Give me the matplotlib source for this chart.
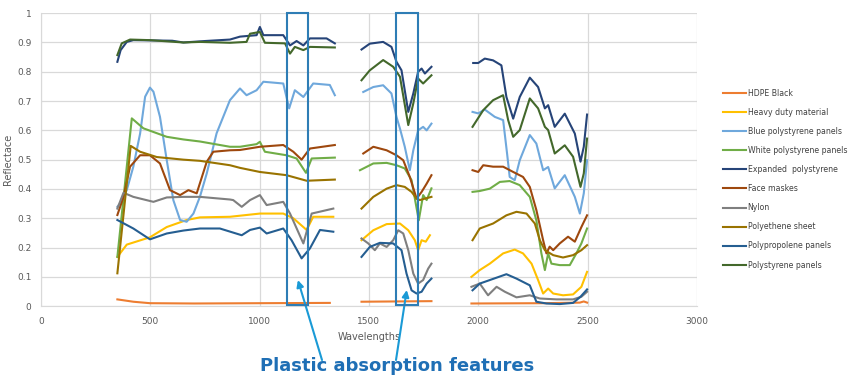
import numpy as np
import matplotlib
matplotlib.use('Agg')
import matplotlib.pyplot as plt
from matplotlib.patches import Rectangle

nan = np.nan

# wavelengths (nm) / reflectance, nan separates the 3 detector segments
hdpe_w = [349, 422, 498, 700, 1000, 1321, nan, 1466, 1786, nan, 1969, 2300, 2465, 2483, 2498]
hdpe_r = [0.023, 0.015, 0.010, 0.009, 0.010, 0.011, nan, 0.015, 0.017, nan, 0.009, 0.010, 0.012, 0.016, 0.012]

heavy_w = [349, 392, 498, 575, 666, 727, 864, 1001, 1108, 1154, 1215, 1245, 1337, nan,
           1466, 1520, 1581, 1642, 1680, 1710, 1725, 1741, 1760, 1779, nan,
           1969, 2007, 2053, 2114, 2167, 2205, 2244, 2274, 2297, 2320, 2343, 2388, 2434, 2472, 2498]
heavy_r = [0.168, 0.21, 0.235, 0.27, 0.294, 0.303, 0.305, 0.316, 0.316, 0.30, 0.26, 0.305, 0.305, nan,
           0.225, 0.259, 0.28, 0.282, 0.259, 0.225, 0.191, 0.225, 0.22, 0.242, nan,
           0.10, 0.123, 0.145, 0.18, 0.193, 0.18, 0.145, 0.089, 0.043, 0.06, 0.043, 0.037, 0.04, 0.066, 0.117]

blue_w = [349, 361, 392, 422, 453, 476, 498, 514, 544, 575, 605, 636, 666, 697, 727, 758, 803, 864,
          910, 940, 986, 1017, 1108, 1135, 1161, 1200, 1245, 1321, 1344, nan,
          1474, 1520, 1565, 1603, 1626, 1642, 1664, 1687, 1703, 1725, 1748, 1764, 1786, nan,
          1974, 2000, 2030, 2076, 2114, 2132, 2144, 2167, 2190, 2236, 2266, 2297, 2320, 2350, 2396,
          2442, 2465, 2483, 2498]
blue_r = [0.339, 0.35, 0.396, 0.476, 0.589, 0.715, 0.746, 0.732, 0.646, 0.498, 0.362, 0.294, 0.288,
          0.316, 0.374, 0.453, 0.59, 0.703, 0.743, 0.72, 0.737, 0.766, 0.76, 0.675, 0.737, 0.714,
          0.76, 0.755, 0.72, nan,
          0.731, 0.748, 0.754, 0.726, 0.646, 0.606, 0.544, 0.464, 0.532, 0.60, 0.612, 0.60, 0.623, nan,
          0.663, 0.658, 0.671, 0.646, 0.635, 0.521, 0.441, 0.43, 0.498, 0.584, 0.555, 0.464, 0.475,
          0.402, 0.447, 0.373, 0.316, 0.385, 0.498]

white_w = [349, 415, 468, 575, 651, 727, 864, 910, 986, 1001, 1024, 1123, 1169, 1212, 1238, 1344, nan,
           1459, 1520, 1581, 1626, 1664, 1695, 1728, 1748, 1764, 1786, nan,
           1974, 2007, 2053, 2099, 2144, 2190, 2236, 2266, 2289, 2305, 2320, 2335, 2373, 2419, 2449,
           2472, 2498]
white_r = [0.168, 0.641, 0.607, 0.578, 0.569, 0.562, 0.544, 0.544, 0.553, 0.561, 0.527, 0.515, 0.504,
           0.455, 0.504, 0.507, nan,
           0.464, 0.487, 0.489, 0.481, 0.47, 0.43, 0.293, 0.379, 0.362, 0.402, nan,
           0.39, 0.393, 0.401, 0.424, 0.427, 0.413, 0.373, 0.293, 0.18, 0.123, 0.18, 0.145, 0.14,
           0.14, 0.18, 0.214, 0.265]

expanded_w = [349, 364, 392, 422, 600, 651, 750, 864, 910, 986, 1001, 1017, 1108, 1139, 1169, 1200,
              1230, 1306, 1344, nan,
              1466, 1504, 1565, 1603, 1626, 1649, 1680, 1703, 1725, 1741, 1756, 1786, nan,
              1977, 2000, 2030, 2068, 2106, 2129, 2160, 2190, 2236, 2274, 2305, 2320, 2350, 2396,
              2442, 2468, 2483, 2498]
expanded_r = [0.834, 0.874, 0.902, 0.908, 0.906, 0.90, 0.905, 0.91, 0.92, 0.925, 0.953, 0.925, 0.925,
              0.89, 0.905, 0.89, 0.914, 0.914, 0.897, nan,
              0.876, 0.896, 0.902, 0.885, 0.834, 0.805, 0.663, 0.726, 0.80, 0.811, 0.794, 0.817, nan,
              0.83, 0.83, 0.845, 0.839, 0.822, 0.714, 0.64, 0.714, 0.78, 0.748, 0.675, 0.686, 0.612,
              0.657, 0.589, 0.493, 0.544, 0.654]

mask_w = [349, 377, 407, 453, 498, 544, 590, 636, 674, 712, 758, 788, 864, 910, 1001, 1108, 1154,
          1192, 1230, 1344, nan,
          1474, 1520, 1581, 1626, 1657, 1687, 1718, 1741, 1764, 1786, nan,
          1974, 2000, 2023, 2068, 2114, 2160, 2205, 2236, 2266, 2297, 2312, 2327, 2343, 2373, 2411,
          2442, 2472, 2498]
mask_r = [0.311, 0.373, 0.476, 0.515, 0.515, 0.487, 0.396, 0.379, 0.396, 0.385, 0.493, 0.527, 0.532,
          0.533, 0.544, 0.55, 0.527, 0.50, 0.538, 0.55, nan,
          0.521, 0.544, 0.532, 0.515, 0.498, 0.441, 0.367, 0.39, 0.418, 0.447, nan,
          0.464, 0.458, 0.481, 0.476, 0.476, 0.458, 0.441, 0.407, 0.328, 0.225, 0.18, 0.203, 0.191,
          0.214, 0.237, 0.22, 0.27, 0.31]

nylon_w = [349, 377, 422, 514, 575, 651, 727, 864, 879, 918, 956, 1001, 1032, 1108, 1139, 1200, 1238,
           1337, nan,
           1466, 1497, 1527, 1550, 1581, 1611, 1634, 1657, 1680, 1703, 1725, 1748, 1771, 1786, nan,
           1969, 2007, 2045, 2084, 2122, 2175, 2236, 2282, 2358, 2434, 2472, 2498]
nylon_r = [0.333, 0.387, 0.373, 0.356, 0.371, 0.373, 0.373, 0.364, 0.362, 0.339, 0.362, 0.379, 0.345,
           0.356, 0.316, 0.214, 0.316, 0.333, nan,
           0.231, 0.214, 0.191, 0.214, 0.202, 0.225, 0.259, 0.248, 0.191, 0.111, 0.077, 0.089, 0.128,
           0.145, nan,
           0.066, 0.077, 0.037, 0.066, 0.049, 0.03, 0.037, 0.026, 0.023, 0.023, 0.032, 0.049]

sheet_w = [349, 410, 453, 529, 651, 727, 864, 910, 1001, 1123, 1215, 1344, nan,
           1466, 1520, 1581, 1626, 1664, 1695, 1718, 1733, 1756, 1786, nan,
           1974, 2007, 2068, 2129, 2175, 2221, 2259, 2282, 2305, 2343, 2388, 2434, 2472, 2498]
sheet_r = [0.112, 0.547, 0.527, 0.509, 0.50, 0.496, 0.481, 0.472, 0.458, 0.447, 0.428, 0.432, nan,
           0.333, 0.373, 0.401, 0.413, 0.407, 0.39, 0.367, 0.362, 0.367, 0.373, nan,
           0.225, 0.265, 0.282, 0.31, 0.322, 0.316, 0.282, 0.225, 0.191, 0.174, 0.166, 0.174, 0.191, 0.208]

pp_w = [349, 422, 498, 575, 651, 727, 818, 918, 956, 1001, 1032, 1108, 1146, 1192, 1230, 1276, 1337, nan,
        1466, 1504, 1550, 1611, 1649, 1672, 1695, 1718, 1741, 1764, 1786, nan,
        1974, 2007, 2053, 2129, 2175, 2236, 2266, 2312, 2373, 2434, 2468, 2498]
pp_r = [0.294, 0.265, 0.228, 0.248, 0.258, 0.265, 0.265, 0.242, 0.26, 0.268, 0.248, 0.265, 0.225,
        0.163, 0.197, 0.26, 0.254, nan,
        0.168, 0.202, 0.216, 0.214, 0.191, 0.111, 0.054, 0.043, 0.049, 0.077, 0.094, nan,
        0.054, 0.077, 0.089, 0.109, 0.094, 0.071, 0.015, 0.009, 0.007, 0.011, 0.032, 0.057]

ps_w = [349, 369, 407, 498, 651, 727, 864, 940, 956, 1001, 1024, 1116, 1139, 1161, 1200, 1230, 1344, nan,
        1466, 1504, 1565, 1611, 1642, 1680, 1703, 1725, 1748, 1786, nan,
        1974, 2023, 2068, 2114, 2137, 2160, 2190, 2236, 2274, 2305, 2320, 2350, 2396, 2434, 2468,
        2483, 2498]
ps_r = [0.857, 0.897, 0.91, 0.908, 0.90, 0.902, 0.899, 0.902, 0.93, 0.936, 0.899, 0.897, 0.862, 0.885,
        0.874, 0.885, 0.883, nan,
        0.771, 0.805, 0.84, 0.817, 0.783, 0.618, 0.692, 0.777, 0.76, 0.788, nan,
        0.612, 0.669, 0.703, 0.72, 0.635, 0.578, 0.601, 0.709, 0.675, 0.612, 0.601, 0.521, 0.549,
        0.51, 0.407, 0.453, 0.572]

labels = ['HDPE Black', 'Heavy duty material', 'Blue polystyrene panels',
          'White polystyrene panels', 'Expanded  polystyrene', 'Face maskes', 'Nylon',
          'Polyethene sheet', 'Polypropolene panels', 'Polystyrene panels']
waves = [hdpe_w, heavy_w, blue_w, white_w, expanded_w, mask_w, nylon_w, sheet_w, pp_w, ps_w]
refl = [hdpe_r, heavy_r, blue_r, white_r, expanded_r, mask_r, nylon_r, sheet_r, pp_r, ps_r]
colors = ['#ED7D31', '#FFC000', '#6FA8DC', '#70AD47', '#264478', '#9E480E', '#7F7F7F',
          '#997300', '#255E91', '#43682B']

# absorption windows highlighted with boxes
boxes = [(1125, 1221), (1623, 1724)]

fig = plt.figure(figsize=(8.56, 3.77), dpi=100)
ax = fig.add_axes([0.048, 0.188, 0.766, 0.777])

lines = []
for w, r, c, lab in zip(waves, refl, colors, labels):
    l, = ax.plot(w, r, color=c, lw=1.5, label=lab, solid_joinstyle='round')
    lines.append(l)

ax.set_xlim(0, 3000)
ax.set_ylim(0, 1)
ax.set_xticks(np.arange(0, 3001, 500))
ax.set_yticks(np.arange(0, 1.01, 0.1))
ax.set_yticklabels(['%g' % round(v, 1) for v in np.arange(0, 1.01, 0.1)])
ax.grid(True, color='#d9d9d9', lw=0.9)
ax.set_axisbelow(True)
for s in ['top', 'right']:
    ax.spines[s].set_visible(False)
for s in ['left', 'bottom']:
    ax.spines[s].set_color('#d9d9d9')
ax.tick_params(length=0, labelsize=6.5, colors='#595959')
ax.tick_params(axis='y', pad=7)
ax.tick_params(axis='x', pad=8)
ax.set_xlabel('Wavelengths', fontsize=7, color='#595959', labelpad=4)
ax.set_ylabel('Reflectace', fontsize=7, color='#595959', labelpad=3)

for x0, x1 in boxes:
    ax.add_patch(Rectangle((x0, 0.003), x1 - x0, 0.997, fill=False, ec='#2e7db5', lw=1.5,
                           clip_on=False, zorder=5))

fig.legend(lines, labels, loc='center left', bbox_to_anchor=(0.836, 0.525), frameon=False,
           fontsize=5.6, handlelength=3.0, handletextpad=0.2, labelspacing=1.3,
           labelcolor='#404040')

# arrows from the caption to the boxes
ax.annotate('', xy=(1175, 0.089), xycoords='data', xytext=(322, 17), textcoords='figure pixels',
            arrowprops=dict(arrowstyle='-|>', color='#1a9ad6', lw=1.5, shrinkA=0, shrinkB=0))
ax.annotate('', xy=(1673, 0.055), xycoords='data', xytext=(396, 17), textcoords='figure pixels',
            arrowprops=dict(arrowstyle='-|>', color='#1a9ad6', lw=1.5, shrinkA=0, shrinkB=0))
fig.text(397 / 856, 11 / 377, 'Plastic absorption features', ha='center', va='center',
         fontsize=13, fontweight='bold', color='#1f6fb5')

fig.savefig('out.png', dpi=100)
